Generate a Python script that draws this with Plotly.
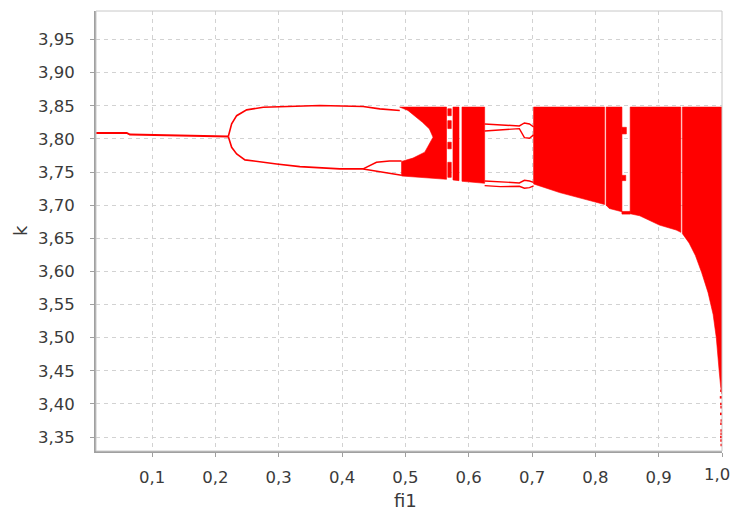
import plotly.graph_objects as go

# ---------------- data ----------------
# period-1 branch
p1_fi = [0.0115, 0.060, 0.065, 0.130, 0.171, 0.205, 0.2204]
p1_k = [3.809, 3.809, 3.8065, 3.8057, 3.8042, 3.8038, 3.8035]

# period-2 upper branch
up_fi = [0.2204, 0.2257, 0.2336, 0.2494, 0.2756, 0.320, 0.365, 0.4333, 0.4596, 0.4912]
up_k = [3.8035, 3.8227, 3.835, 3.8438, 3.8477, 3.8495, 3.8503, 3.8488, 3.8453, 3.8428]

# period-2 lower branch
lo_fi = [0.2204, 0.2257, 0.2336, 0.2467, 0.2967, 0.3334, 0.3965, 0.4333]
lo_k = [3.8035, 3.7873, 3.7773, 3.7683, 3.7622, 3.7582, 3.7547, 3.7547]

# period-4 split of lower branch
lo_a_fi = [0.4333, 0.4544, 0.4750, 0.4940]
lo_a_k = [3.7547, 3.7647, 3.7668, 3.7665]
lo_b_fi = [0.4333, 0.4544, 0.4750, 0.4940]
lo_b_k = [3.7547, 3.7510, 3.7475, 3.7450]

# chaotic bands: column ranges, top level and lower boundary
band_start = [0.4910, 0.5752, 0.5894, 0.7025, 0.8170, 0.8550, 0.9375]
band_end = [0.5650, 0.5847, 0.6252, 0.8145, 0.8420, 0.9350, 1.0000]
band_top = 3.848

lower_fi = [0.494, 0.520, 0.565, 0.5752, 0.5847, 0.5894, 0.6252, 0.7025, 0.7435,
            0.780, 0.8145, 0.817, 0.822, 0.842, 0.855, 0.870, 0.901, 0.9276,
            0.935, 0.9375, 0.948, 0.958, 0.968, 0.978, 0.986, 0.991, 0.9955,
            0.998, 1.000]
lower_k = [3.744, 3.742, 3.739, 3.738, 3.737, 3.736, 3.733, 3.732, 3.719,
           3.710, 3.701, 3.700, 3.695, 3.690, 3.687, 3.684, 3.670, 3.6625,
           3.659, 3.657, 3.643, 3.624, 3.598, 3.568, 3.535, 3.500, 3.450,
           3.425, 3.415]

# white (periodic) hole at the right tip of the period-2 bubble: left edge of first band
hole_fi = [0.494, 0.512, 0.5306, 0.5437, 0.538, 0.527, 0.504, 0.491]
hole_k = [3.766, 3.771, 3.780, 3.8025, 3.815, 3.825, 3.843, 3.848]

# periodic window 0.625 - 0.70
w_u1_fi = [0.6252, 0.650, 0.680, 0.688, 0.696, 0.7025]
w_u1_k = [3.8225, 3.8210, 3.8195, 3.8240, 3.8225, 3.8180]
w_u2_fi = [0.6252, 0.650, 0.680, 0.688, 0.696, 0.7025]
w_u2_k = [3.8120, 3.8135, 3.8155, 3.8020, 3.8010, 3.8060]
w_l1_fi = [0.6252, 0.650, 0.680, 0.688, 0.696, 0.7025]
w_l1_k = [3.7365, 3.7350, 3.7335, 3.7375, 3.7365, 3.7345]
w_l2_fi = [0.6252, 0.650, 0.680, 0.688, 0.696, 0.7025]
w_l2_k = [3.7295, 3.7280, 3.7285, 3.7255, 3.7265, 3.7290]

# small red pieces inside narrow windows: fi0, fi1, k0, k1
bit_fi0 = [0.5670, 0.5670, 0.5670, 0.5670, 0.8420, 0.8420, 0.8420]
bit_fi1 = [0.5725, 0.5725, 0.5725, 0.5725, 0.8490, 0.8480, 0.8550]
bit_k0 = [3.835, 3.8155, 3.785, 3.742, 3.8075, 3.737, 3.6865]
bit_k1 = [3.8455, 3.8275, 3.795, 3.7647, 3.8175, 3.745, 3.6905]

# sparse points of the tail near fi1 = 1
tail_fi = [0.9985, 0.9990, 0.9988, 0.9992, 0.9995, 0.9990, 0.9993, 0.9996, 0.9994, 0.9997, 0.9995, 0.9991]
tail_k = [3.410, 3.400, 3.385, 3.370, 3.360, 3.350, 3.345, 3.338, 3.395, 3.375, 3.355, 3.420]

x_ticks = [0.1, 0.2, 0.3, 0.4, 0.5, 0.6, 0.7, 0.8, 0.9, 1.0]
x_labels = ["0,1", "0,2", "0,3", "0,4", "0,5", "0,6", "0,7", "0,8", "0,9", "1,0"]
y_ticks = [3.35, 3.40, 3.45, 3.50, 3.55, 3.60, 3.65, 3.70, 3.75, 3.80, 3.85, 3.90, 3.95]
y_labels = ["3,35", "3,40", "3,45", "3,50", "3,55", "3,60", "3,65", "3,70", "3,75",
            "3,80", "3,85", "3,90", "3,95"]

# ---------------- figure ----------------
RED = "#ff0000"
TXT = "#3a3a3a"
FONT = "DejaVu Sans"
fig = go.Figure()


def add_poly(xs, ys):
    fig.add_trace(go.Scatter(x=xs, y=ys, mode="lines", fill="toself", fillcolor=RED,
                             line=dict(color=RED, width=0.6), hoverinfo="skip",
                             showlegend=False))


for i, (a, b) in enumerate(zip(band_start, band_end)):
    low = [(f, k) for f, k in zip(lower_fi, lower_k) if a - 1e-9 <= f <= b + 1e-9]
    low.sort(key=lambda p: -p[0])
    xs = [a, b] + [p[0] for p in low]
    ys = [band_top, band_top] + [p[1] for p in low]
    if i == 0:
        xs += hole_fi
        ys += hole_k
    else:
        xs += [a]
        ys += [band_top]
    add_poly(xs, ys)

for f0, f1, k0, k1 in zip(bit_fi0, bit_fi1, bit_k0, bit_k1):
    add_poly([f0, f1, f1, f0, f0], [k0, k0, k1, k1, k0])

for xs, ys, w in [(p1_fi, p1_k, 2), (up_fi, up_k, 1.6), (lo_fi, lo_k, 1.6),
                  (lo_a_fi, lo_a_k, 1.5), (lo_b_fi, lo_b_k, 1.5),
                  (w_u1_fi, w_u1_k, 1.4), (w_u2_fi, w_u2_k, 1.4),
                  (w_l1_fi, w_l1_k, 1.4), (w_l2_fi, w_l2_k, 1.4)]:
    fig.add_trace(go.Scatter(x=xs, y=ys, mode="lines", line=dict(color=RED, width=w),
                             hoverinfo="skip", showlegend=False))

fig.add_trace(go.Scatter(x=tail_fi, y=tail_k, mode="markers",
                         marker=dict(color=RED, size=2.5, symbol="square"),
                         hoverinfo="skip", showlegend=False))

axis_common = dict(
    showgrid=True, gridcolor="#d2d2d2", griddash="4px,4px", gridwidth=1,
    zeroline=False, showline=True, linecolor="#a0a0a0", linewidth=2,
    ticks="outside", ticklen=4, tickcolor="#a0a0a0", tickwidth=1,
    tickfont=dict(family=FONT, size=16.5, color=TXT), automargin=False,
)

# the last x label sits at the very edge of the window: draw it as an annotation
# nudged slightly left so it is not clipped
x_tick_text = x_labels[:-1] + [""]

# page has an 8px body margin, so the figure is placed at (8, 8)
fig.update_layout(
    width=738, height=509,
    margin=dict(l=88, r=24, t=3, b=66),
    paper_bgcolor="white", plot_bgcolor="white",
    xaxis=dict(range=[0.0115, 1.0], tickvals=x_ticks, ticktext=x_tick_text,
               ticklabelstandoff=6, **axis_common),
    yaxis=dict(range=[3.329, 3.993], tickvals=y_ticks, ticktext=y_labels,
               ticklabelstandoff=12, **axis_common),
    shapes=[dict(type="rect", xref="paper", yref="paper", x0=0, x1=1, y0=0, y1=1,
                 line=dict(color="#c8c8c8", width=1), layer="above")],
    annotations=[
        dict(text=x_labels[-1], xref="x", yref="paper", x=x_ticks[-1], y=0,
             xanchor="center", yanchor="middle", xshift=-5, yshift=-23,
             showarrow=False, font=dict(family=FONT, size=16.5, color=TXT)),
        dict(text="fi1", xref="paper", yref="paper", x=0.5, y=0, xanchor="center",
             yanchor="middle", xshift=-4, yshift=-49, showarrow=False,
             font=dict(family=FONT, size=18, color=TXT)),
        dict(text="k", xref="paper", yref="paper", x=0, y=0.5, xanchor="center",
             yanchor="middle", xshift=-76, textangle=-90, showarrow=False,
             font=dict(family=FONT, size=18, color=TXT)),
    ],
)

fig.write_html("out.html")
